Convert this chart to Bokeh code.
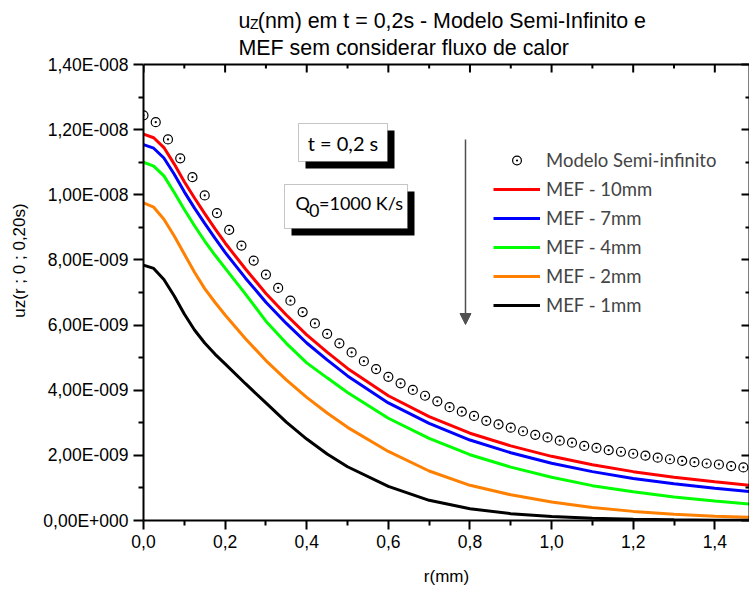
from bokeh.plotting import figure
from bokeh.models import (Range1d, LinearAxis, FixedTicker, Label, BoxAnnotation,
                          Arrow, NormalHead, Legend, LegendItem, Span)
from bokeh.embed import file_html
from bokeh.resources import INLINE

# ---------------- data (uz in units of 1e-9) ----------------
r_semi = [0.00, 0.03, 0.06, 0.09, 0.12, 0.15, 0.18, 0.21, 0.24, 0.27,
          0.30, 0.33, 0.36, 0.39, 0.42, 0.45, 0.48, 0.51, 0.54, 0.57,
          0.60, 0.63, 0.66, 0.69, 0.72, 0.75, 0.78, 0.81, 0.84, 0.87,
          0.90, 0.93, 0.96, 0.99, 1.02, 1.05, 1.08, 1.11, 1.14, 1.17,
          1.20, 1.23, 1.26, 1.29, 1.32, 1.35, 1.38, 1.41, 1.44, 1.47]
uz_semi = [12.44, 12.23, 11.70, 11.12, 10.54, 9.98, 9.44, 8.92, 8.44, 7.98,
           7.55, 7.14, 6.75, 6.40, 6.05, 5.73, 5.44, 5.16, 4.89, 4.65,
           4.41, 4.21, 4.01, 3.83, 3.66, 3.48, 3.34, 3.21, 3.06, 2.95,
           2.85, 2.74, 2.63, 2.55, 2.45, 2.39, 2.29, 2.23, 2.16, 2.11,
           2.05, 1.99, 1.93, 1.88, 1.83, 1.79, 1.75, 1.72, 1.67, 1.63]

r_mef = [0.0, 0.025, 0.05, 0.075, 0.1, 0.125, 0.15, 0.175, 0.2, 0.25, 0.3, 0.35, 0.4,
         0.45, 0.5, 0.6, 0.7, 0.8, 0.9, 1.0, 1.1, 1.2, 1.3, 1.4, 1.5]
uz_10mm = [11.86, 11.75, 11.45, 10.95, 10.40, 9.90, 9.42, 8.96, 8.52, 7.72, 6.97, 6.31,
           5.70, 5.17, 4.67, 3.83, 3.19, 2.68, 2.29, 1.97, 1.71, 1.50, 1.33, 1.19, 1.06]
uz_7mm = [11.54, 11.43, 11.13, 10.64, 10.09, 9.59, 9.12, 8.67, 8.23, 7.44, 6.70, 6.05,
          5.45, 4.93, 4.44, 3.61, 2.98, 2.47, 2.08, 1.76, 1.50, 1.29, 1.13, 0.99, 0.87]
uz_4mm = [11.00, 10.88, 10.58, 10.08, 9.55, 9.05, 8.58, 8.15, 7.75, 6.95, 6.12, 5.44,
          4.84, 4.38, 3.93, 3.14, 2.52, 2.02, 1.64, 1.33, 1.07, 0.88, 0.72, 0.60, 0.49]
uz_2mm = [9.75, 9.62, 9.25, 8.74, 8.18, 7.62, 7.12, 6.70, 6.31, 5.58, 4.91, 4.32,
          3.78, 3.30, 2.86, 2.12, 1.52, 1.08, 0.79, 0.57, 0.40, 0.28, 0.19, 0.13, 0.09]
uz_1mm = [7.84, 7.74, 7.40, 6.90, 6.34, 5.85, 5.45, 5.11, 4.81, 4.20, 3.61, 3.02,
          2.50, 2.04, 1.65, 1.05, 0.62, 0.36, 0.21, 0.12, 0.07, 0.04, 0.02, 0.01, 0.01]

series_names = ["MEF - 10mm", "MEF - 7mm", "MEF - 4mm", "MEF - 2mm", "MEF - 1mm"]
series_colors = ["#FF0000", "#0000FF", "#00FF00", "#FF8000", "#000000"]
semi_name = "Modelo Semi-infinito"

x_ticks = [0.0, 0.2, 0.4, 0.6, 0.8, 1.0, 1.2, 1.4]
x_tick_labels = ["0,0", "0,2", "0,4", "0,6", "0,8", "1,0", "1,2", "1,4"]
x_minor = [0.1, 0.3, 0.5, 0.7, 0.9, 1.1, 1.3, 1.5]
y_ticks = [0, 2, 4, 6, 8, 10, 12, 14]
y_tick_labels = ["0,00E+000", "2,00E-009", "4,00E-009", "6,00E-009",
                 "8,00E-009", "1,00E-008", "1,20E-008", "1,40E-008"]
y_minor = [1, 3, 5, 7, 9, 11, 13]
y_max = 14

# ---------------- layout helpers ----------------
W, H = 749, 592
FL, FR, FB = 143, 749, 520          # frame left/right/bottom (canvas px)
AX_TOP = 64                          # pixel row of the top axis (y = y_max)
PX_PER_Y = (FB - AX_TOP) / y_max
X0, X1 = 0.0, 1.485
Y0, Y1 = 0.0, FB / PX_PER_Y          # frame reaches the top of the canvas
TXT_DY = -8                          # baseline correction for canvas labels


def dx(px):
    return X0 + (px - FL) / (FR - FL) * (X1 - X0)


def dy(py):
    return (FB - py) / PX_PER_Y


ARIAL = "Liberation Sans"
CAL = "Lato"

p = figure(width=W, height=H, x_range=Range1d(X0, X1), y_range=Range1d(Y0, Y1),
           output_backend="svg", toolbar_location=None,
           x_axis_type=None, y_axis_type=None,
           min_border_left=FL, min_border_right=0, min_border_top=0,
           min_border_bottom=H - FB)
p.outline_line_color = None
p.background_fill_color = "white"
p.border_fill_color = "white"

xt = FixedTicker(ticks=x_ticks, minor_ticks=x_minor)
yt = FixedTicker(ticks=y_ticks, minor_ticks=y_minor)

common = dict(axis_line_width=2, axis_line_color="black",
              major_tick_line_width=2, minor_tick_line_width=2,
              major_tick_line_color="black", minor_tick_line_color="black")

bottom = LinearAxis(ticker=xt, major_label_overrides=dict(zip(x_ticks, x_tick_labels)),
                    axis_label="r(mm)", major_tick_out=9, major_tick_in=0,
                    minor_tick_out=5, minor_tick_in=0, major_label_standoff=5,
                    major_label_text_font=ARIAL, major_label_text_font_size="17.5px",
                    major_label_text_color="black",
                    axis_label_text_font=ARIAL, axis_label_text_font_size="17px",
                    axis_label_text_font_style="normal", axis_label_standoff=16,
                    axis_label_text_color="black", **common)
left = LinearAxis(ticker=yt, bounds=(0, y_max),
                  major_label_overrides=dict(zip(y_ticks, y_tick_labels)),
                  axis_label="uz(r ; 0 ; 0,20s)", major_tick_out=10, major_tick_in=0,
                  minor_tick_out=5, minor_tick_in=0, major_label_standoff=5,
                  major_label_text_font=ARIAL, major_label_text_font_size="17.5px",
                  major_label_text_color="black",
                  axis_label_text_font=ARIAL, axis_label_text_font_size="17px",
                  axis_label_text_font_style="normal", axis_label_standoff=11,
                  axis_label_text_color="black", **common)
right = LinearAxis(ticker=yt, bounds=(0, y_max), major_label_overrides={t: "" for t in y_ticks},
                   major_tick_out=0, major_tick_in=8, minor_tick_out=0, minor_tick_in=4,
                   major_label_standoff=0, major_label_text_font_size="0px", **common)
p.add_layout(bottom, "below")
p.add_layout(left, "left")
p.add_layout(right, "right")

# top border of the plot area with inward ticks
p.add_layout(Span(location=y_max, dimension="width", line_color="black", line_width=2))
p.segment(x0=x_ticks, y0=[y_max] * len(x_ticks), x1=x_ticks,
          y1=[y_max - 8 / PX_PER_Y] * len(x_ticks), line_color="black", line_width=2)
p.segment(x0=x_minor, y0=[y_max] * len(x_minor), x1=x_minor,
          y1=[y_max - 4 / PX_PER_Y] * len(x_minor), line_color="black", line_width=2)

# ---------------- data marks ----------------
line_renderers = []
for vals, col in zip([uz_10mm, uz_7mm, uz_4mm, uz_2mm, uz_1mm], series_colors):
    line_renderers.append(p.line(r_mef, vals, line_color=col, line_width=3))
circ = p.scatter(r_semi, uz_semi, marker="circle_dot", size=9, line_color="black",
                 fill_color=None, line_width=1.2)

items = [LegendItem(label=semi_name, renderers=[circ])]
items += [LegendItem(label=n, renderers=[r]) for n, r in zip(series_names, line_renderers)]
legend = Legend(items=items, location=(350, 204), padding=0, margin=0, spacing=7,
                glyph_width=47, glyph_height=22, label_height=22, label_standoff=6,
                label_text_font=CAL, label_text_font_size="18.5px",
                border_line_color=None, background_fill_alpha=0)
p.add_layout(legend)

# ---------------- annotations ----------------
def box(l, t, r, b):
    p.add_layout(BoxAnnotation(left=dx(l + 7), right=dx(r + 7), top=dy(t + 7), bottom=dy(b + 7),
                               fill_color="black", fill_alpha=1, line_color=None))
    p.add_layout(BoxAnnotation(left=dx(l), right=dx(r), top=dy(t), bottom=dy(b),
                               fill_color="white", fill_alpha=1, line_color="#404040",
                               line_width=1))


def lab(px, py, text, font, size, align="left"):
    p.add_layout(Label(x=px, y=py + TXT_DY, x_units="canvas", y_units="canvas", text=text,
                       text_font=font, text_font_size=size,
                       text_align=align, text_baseline="alphabetic", text_color="black"))


box(298, 123, 387, 161)
lab(342.5, 150.5, "t = 0,2 s", CAL, "20px", "center")
box(284, 184, 407, 228)
lab(295, 210, "Q", CAL, "18px")
lab(308.5, 217.5, "0", CAL, "18px")
lab(318.5, 210, "=1000 K/s", CAL, "18px")

p.add_layout(Arrow(end=NormalHead(size=11, fill_color="#505050", line_color="#505050"),
                   x_start=dx(465), y_start=dy(139), x_end=dx(465), y_end=dy(324),
                   line_color="#505050", line_width=1.5))

# title (two lines, with subscript)
lab(238, 28.3, "u", ARIAL, "21.4px")
lab(249.5, 31.7, "Z", ARIAL, "14px")
lab(257.3, 28.3, "(nm) em t = 0,2s - Modelo Semi-Infinito e", ARIAL, "21.4px")
lab(238, 55, "MEF sem considerar fluxo de calor", ARIAL, "21.4px")

open("out.html", "w").write(file_html(p, INLINE))
